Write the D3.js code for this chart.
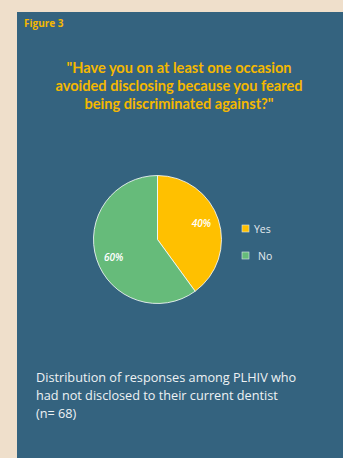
<!DOCTYPE html>
<html>
<head>
<meta charset="utf-8">
<script src="https://cdn.jsdelivr.net/npm/d3@7"></script>
<style>
  body { margin: 0; background: #efdfcb; }
  svg { display: block; }
</style>
</head>
<body>
<div id="chart"></div>
<script>
const categories = ['Yes', 'No']
const values = [40, 60]
const colours = ['#ffc000', '#66bb7a']
const titleLines = ['"Have you on at least one occasion', 'avoided disclosing because you feared', 'being discriminated against?"']
const captionLines = ['Distribution of responses among PLHIV who', 'had not disclosed to their current dentist', '(n= 68)']

let W = 343, H = 458
let svg = d3.select('#chart').append('svg')
  .attr('width', W).attr('height', H)

svg.append('rect').attr('x', 0).attr('y', 0).attr('width', W).attr('height', H).attr('fill', '#efdfcb')
svg.append('rect').attr('x', 17).attr('y', 12).attr('width', W - 17).attr('height', H - 12).attr('fill', '#34637f')

svg.append('text')
  .attr('x', 24).attr('y', 27)
  .attr('font-family', 'Open Sans').attr('font-weight', 'bold').attr('font-size', 10)
  .attr('fill', '#f5b800')
  .text('Figure 3')

svg.append('g').selectAll('text').data(titleLines).join('text')
  .attr('x', 179).attr('y', (d, i) => 73 + i * 18)
  .attr('text-anchor', 'middle')
  .attr('font-family', 'Lato').attr('font-weight', 'bold').attr('font-size', 14.6)
  .attr('fill', '#f5b800')
  .text(d => d)

// pie
let cx = 157.5, cy = 239.5, r = 64
let pie = d3.pie().sort(null)(values)
let arc = d3.arc().innerRadius(0).outerRadius(r)
let g = svg.append('g').attr('transform', `translate(${cx},${cy})`)
g.selectAll('path').data(pie).join('path')
  .attr('d', arc)
  .attr('fill', (d, i) => colours[i])
  .attr('stroke', '#ffffff').attr('stroke-width', 0.8)

let labelArc = d3.arc().innerRadius(r * 0.72).outerRadius(r * 0.72)
g.selectAll('text').data(pie).join('text')
  .attr('transform', (d, i) => {
    let c = labelArc.centroid(d)
    return `translate(${c[0]},${c[1] + (i == 0 ? -2 : 4)})`
  })
  .attr('text-anchor', 'middle').attr('dy', '0.35em')
  .attr('font-family', 'Open Sans').attr('font-style', 'italic').attr('font-weight', 600)
  .attr('font-size', 10).attr('fill', '#ffffff')
  .text(d => d.data + '%')

// legend
let legend = svg.append('g').selectAll('g').data(categories).join('g')
  .attr('transform', (d, i) => `translate(242,${225 + i * 27})`)
legend.append('rect')
  .attr('width', 7).attr('height', 7)
  .attr('fill', (d, i) => colours[i])
  .attr('stroke', '#dde6ea').attr('stroke-width', 0.6)
legend.append('text')
  .attr('x', (d, i) => i == 0 ? 12 : 16).attr('y', 7.5)
  .attr('font-family', 'Open Sans').attr('font-size', 10.5)
  .attr('fill', '#e4ebef')
  .text(d => d)

svg.append('g').selectAll('text').data(captionLines).join('text')
  .attr('x', 36).attr('y', (d, i) => 382 + i * 18)
  .attr('font-family', 'Open Sans').attr('font-size', 12.7)
  .attr('fill', '#eef2f4')
  .text(d => d)
</script>
</body>
</html>
